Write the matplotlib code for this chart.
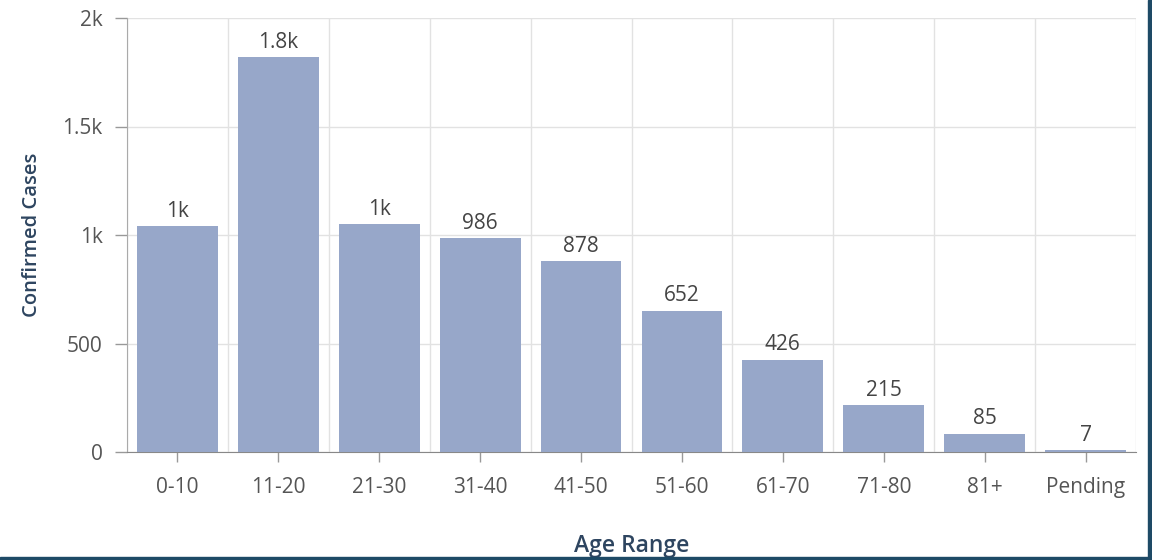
import matplotlib
matplotlib.use("Agg")
import matplotlib.pyplot as plt
from matplotlib.ticker import FuncFormatter, FixedLocator

# Confirmed cases by age range
age_ranges = ["0-10", "11-20", "21-30", "31-40", "41-50", "51-60",
              "61-70", "71-80", "81+", "Pending"]
confirmed_cases = [1042, 1820, 1049, 986, 878, 652, 426, 215, 85, 7]
y_ticks = [0, 500, 1000, 1500, 2000]


def k_format(v):
    if v >= 1000:
        s = f"{v / 1000:.1f}".rstrip("0").rstrip(".")
        return s + "k"
    return f"{int(round(v))}"


plt.rcParams["font.family"] = ["Open Sans", "DejaVu Sans"]

W, H = 1152, 560
fig = plt.figure(figsize=(W / 100, H / 100), dpi=100)
fig.patch.set_facecolor("white")

ax = fig.add_axes([127 / W, 1 - 452 / H, (1136 - 127) / W, (452 - 18) / H])

x = list(range(len(age_ranges)))
ax.bar(x, confirmed_cases, width=0.8, color="#97a7c9", zorder=3)

for xi, v in zip(x, confirmed_cases):
    ax.annotate(k_format(v), (xi, v), xytext=(0, 3), textcoords="offset points",
                ha="center", va="bottom", fontsize=15, color="#444444", zorder=4)

ax.set_xlim(-0.5, len(age_ranges) - 0.5)
ax.set_ylim(0, 2000)

ax.yaxis.set_major_locator(FixedLocator(y_ticks))
ax.yaxis.set_major_formatter(FuncFormatter(lambda v, p: k_format(v)))
ax.set_xticks(x)
ax.set_xticklabels(age_ranges)
ax.xaxis.set_minor_locator(FixedLocator([i + 0.5 for i in range(-1, len(age_ranges))]))

ax.grid(axis="y", which="major", color="#e2e2e2", linewidth=1, zorder=0)
ax.grid(axis="x", which="minor", color="#e2e2e2", linewidth=1, zorder=0)
ax.grid(axis="x", which="major", visible=False)

ax.tick_params(axis="y", which="major", length=8.5, color="#999999", width=1,
               labelsize=15, labelcolor="#555555", pad=9)
ax.tick_params(axis="x", which="major", length=7, color="#999999", width=1,
               labelsize=15, labelcolor="#555555", pad=11, direction="out")
ax.tick_params(axis="x", which="minor", length=0)

for side in ["top", "right"]:
    ax.spines[side].set_visible(False)
ax.spines["left"].set_color("#aaaaaa")
ax.spines["bottom"].set_color("#888888")

ax.set_ylabel("Confirmed Cases", fontsize=14.5, fontweight="semibold", color="#2e4560", labelpad=15)
ax.set_xlabel("Age Range", fontsize=16.5, fontweight="semibold", color="#2e4560", labelpad=26)

# frame strips on the right and bottom edges
fig.patches.append(plt.Rectangle((1 - 4 / W, 0), 4 / W, 1, transform=fig.transFigure,
                                 color="#1e4a66", zorder=10))
fig.patches.append(plt.Rectangle((0, 0), 1, 3 / H, transform=fig.transFigure,
                                 color="#1e4a66", zorder=10))

fig.savefig("out.png", dpi=100)
